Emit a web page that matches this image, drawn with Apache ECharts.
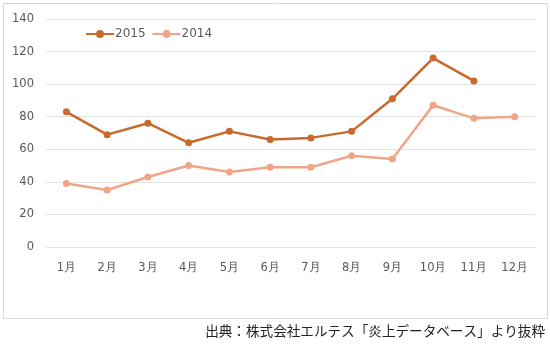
<!DOCTYPE html>
<html>
<head>
<meta charset="utf-8">
<script src="https://cdn.jsdelivr.net/npm/echarts@6/dist/echarts.min.js"></script>
<style>
  html, body { margin: 0; padding: 0; background: #fff; }
  #chart { width: 550px; height: 344px; }
</style>
</head>
<body>
<div id="chart"></div>
<script>
// Monthly counts, 2014 vs 2015
const months = ['1月', '2月', '3月', '4月', '5月', '6月', '7月', '8月', '9月', '10月', '11月', '12月'];
const values2015 = [83, 69, 76, 64, 71, 66, 67, 71, 91, 116, 102, null];
const values2014 = [39, 35, 43, 50, 46, 49, 49, 56, 54, 87, 79, 80];
const yTicks = [0, 20, 40, 60, 80, 100, 120, 140];
const sourceNote = '出典：株式会社エルテス「炎上データベース」より抜粋';

const color2015 = '#C96A2D';
const color2014 = '#EFA688';
const fontFamily = '"DejaVu Sans", Verdana, sans-serif';

const chart = echarts.init(document.getElementById('chart'));
chart.setOption({
  animation: false,
  backgroundColor: '#fff',
  legend: {
    left: 80,
    top: 23,
    itemWidth: 28,
    itemHeight: 10,
    itemGap: 6,
    textStyle: { color: '#595959', fontSize: 12, fontFamily: fontFamily, padding: [0, 0, 0, -4] },
    data: ['2015', '2014']
  },
  grid: { left: 46, right: 15, top: 19, bottom: 97 },
  xAxis: {
    type: 'category',
    data: months,
    boundaryGap: true,
    axisLine: { show: false },
    axisTick: { show: false },
    axisLabel: { color: '#595959', fontSize: 11.5, fontFamily: fontFamily, margin: 15 }
  },
  yAxis: {
    type: 'value',
    min: yTicks[0],
    max: yTicks[yTicks.length - 1],
    interval: 20,
    axisLine: { show: false },
    axisTick: { show: false },
    axisLabel: { color: '#595959', fontSize: 11.5, fontFamily: fontFamily, margin: 12 },
    splitLine: { lineStyle: { color: '#E3E3E3', width: 1 } }
  },
  series: [
    {
      name: '2015',
      type: 'line',
      data: values2015,
      symbol: 'circle',
      symbolSize: 7,
      lineStyle: { color: color2015, width: 2.5 },
      itemStyle: { color: color2015 }
    },
    {
      name: '2014',
      type: 'line',
      data: values2014,
      symbol: 'circle',
      symbolSize: 7,
      lineStyle: { color: color2014, width: 2.5 },
      itemStyle: { color: color2014 }
    }
  ],
  graphic: [
    {
      type: 'rect',
      shape: { x: 3.5, y: 3.5, width: 544, height: 315 },
      style: { fill: 'none', stroke: '#D9D9D9', lineWidth: 1 },
      silent: true,
      z: -1
    },
    {
      type: 'text',
      right: 5,
      top: 324,
      style: {
        text: sourceNote,
        fill: '#222',
        font: '13.6px "Noto Sans CJK JP", sans-serif'
      }
    }
  ]
});
</script>
</body>
</html>
